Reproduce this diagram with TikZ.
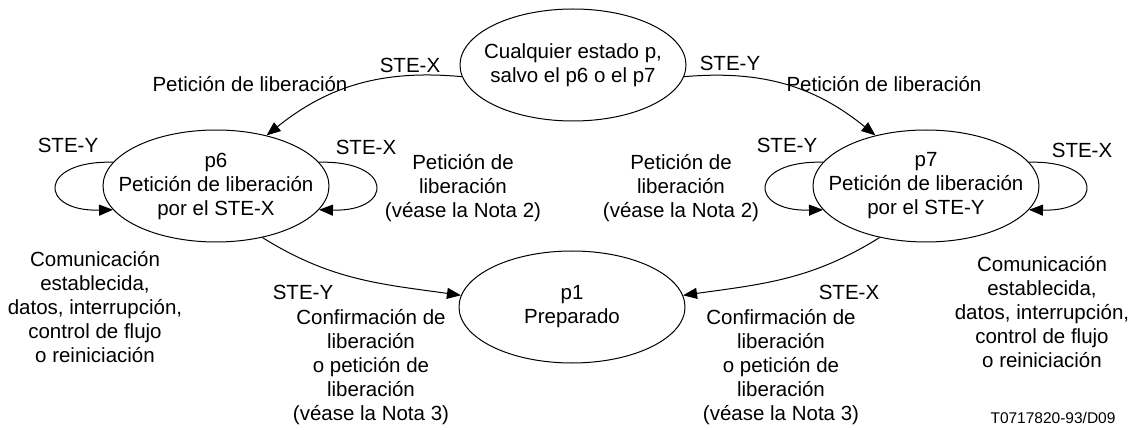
\documentclass[tikz,border=0pt]{standalone}
\usepackage{fontspec}
\setmainfont{Liberation Sans}
\usetikzlibrary{shapes.geometric,arrows.meta}

\begin{document}
\begin{tikzpicture}[x=1pt,y=-1pt,
  every node/.style={font=\fontsize{20.5}{24}\selectfont},
  estado/.style={shape=ellipse,draw,line width=1pt,inner xsep=-18pt,inner ysep=0pt,
    minimum width=226pt,minimum height=112pt,align=center},
  txt/.style={inner sep=0pt,align=center},
  flecha/.style={line width=1pt,-{Triangle[length=14pt,width=11pt]}}]
\useasboundingbox (0,0) rectangle (1138,430);
% estados
\node[estado] (cualq) at (573,65) {Cualquier estado p,\\salvo el p6 o el p7};
\node[estado] (p6) at (216,186) {p6\\Petición de liberación\\por el STE-X};
\node[estado] (p7) at (926,186) {p7\\Petición de liberación\\por el STE-Y};
\node[estado] (p1) at (572,307) {p1\\Preparado};
% transiciones
\draw[flecha] (cualq.186) to[bend right=22] (p6.45);
\draw[flecha] (cualq.-6) to[bend left=22] (p7.135);
\draw[flecha] (p6.-48) to[out=-32,in=172] (p1.174);
\draw[flecha] (p7.-132) to[out=-148,in=8] (p1.6);
\draw[flecha] (p6.167) .. controls +(-75,-2) and +(-75,2) .. (p6.193);
\draw[flecha] (p6.13) .. controls +(75,-2) and +(75,2) .. (p6.-13);
\draw[flecha] (p7.167) .. controls +(-75,-2) and +(-75,2) .. (p7.193);
\draw[flecha] (p7.13) .. controls +(75,-2) and +(75,2) .. (p7.-13);
% etiquetas
\node[txt] (steXa) at (410,65) {STE-X};
\node[txt] (steYa) at (730,63) {STE-Y};
\node[txt] (petA) at (250,84) {Petición de liberación};
\node[txt] (petB) at (884,84) {Petición de liberación};
\node[txt] (steYb) at (68,145) {STE-Y};
\node[txt] (steXb) at (366,147) {STE-X};
\node[txt] (steYc) at (787,145) {STE-Y};
\node[txt] (steXc) at (1082,150) {STE-X};
\node[txt] (nota2a) at (463,188) {Petición de\\liberación\\(véase la Nota 2)};
\node[txt] (nota2b) at (681,188) {Petición de\\liberación\\(véase la Nota 2)};
\node[txt] (comA) at (95,307) {Comunicación\\establecida,\\datos, interrupción,\\control de flujo\\o reiniciación};
\node[txt] (comB) at (1042,312) {Comunicación\\establecida,\\datos, interrupción,\\control de flujo\\o reiniciación};
\node[txt] (steYd) at (303,292) {STE-Y};
\node[txt] (steXd) at (849,292) {STE-X};
\node[txt] (nota3a) at (371,367) {Confirmación de\\liberación\\o petición de\\liberación\\(véase la Nota 3)};
\node[txt] (nota3b) at (781,367) {Confirmación de\\liberación\\o petición de\\liberación\\(véase la Nota 3)};
\node[txt,font=\fontsize{15.5}{18}\selectfont] (ref) at (1053,418) {T0717820-93/D09};
\end{tikzpicture}
\end{document}
